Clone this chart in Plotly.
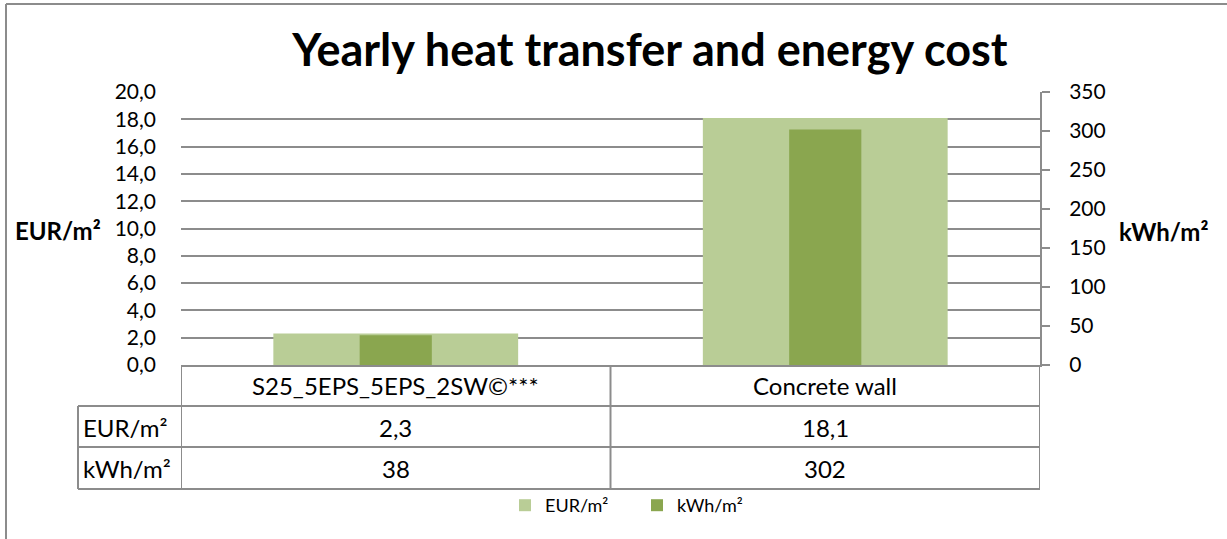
import plotly.graph_objects as go

# ---- data ----
categories = ["S25_5EPS_5EPS_2SW©***", "Concrete wall"]
eur_values = [2.3, 18.1]
kwh_values = [38, 302]
series_names = ["EUR/m²", "kWh/m²"]
title_text = "Yearly heat transfer and energy cost"
left_ticks = [0, 2, 4, 6, 8, 10, 12, 14, 16, 18, 20]
right_ticks = [0, 50, 100, 150, 200, 250, 300, 350]

# ---- layout geometry (pixels) ----
W, H = 1227, 539
L, R_EDGE = 181, 1040
TOP, BOT = 92, 365
PW, PH = R_EDGE - L, BOT - TOP

def fx(px):
    return (px - L) / PW

def fy(py):
    return (BOT - py) / PH

LIGHT = "#B9CD96"
DARK = "#8AA64F"
GRID = "#8C8C8C"
FONT = "Lato"
TFS = 24

fig = go.Figure()
fig.add_trace(go.Bar(x=list(range(len(categories))), y=eur_values, name=series_names[0],
                     marker=dict(color=LIGHT, line=dict(width=0)), width=0.57, yaxis="y"))
fig.add_trace(go.Bar(x=list(range(len(categories))), y=kwh_values, name=series_names[1],
                     marker=dict(color=DARK, line=dict(width=0)), width=0.168, yaxis="y2"))

def fmt(v, dec):
    return (f"{v:.{dec}f}").replace(".", ",")

annotations = []
row_centers = [385, 427, 468]
for i, cat in enumerate(categories):
    for r, txt in enumerate([cat, fmt(eur_values[i], 1), fmt(kwh_values[i], 0)]):
        annotations.append(dict(x=i, xref="x", y=fy(row_centers[r]), yref="paper", text=txt,
                                showarrow=False, font=dict(size=TFS, family=FONT, color="#000"),
                                xanchor="center", yanchor="middle"))
for j, name in enumerate(series_names):
    annotations.append(dict(x=fx(81), xref="paper", y=fy(row_centers[j + 1]), yref="paper", text=name,
                            showarrow=False, font=dict(size=TFS, family=FONT, color="#000"),
                            xanchor="left", yanchor="middle"))
# axis titles
annotations.append(dict(x=fx(13), xref="paper", y=fy(230), yref="paper", text="<b>EUR/m²</b>",
                        showarrow=False, font=dict(size=24, family=FONT, color="#000"),
                        xanchor="left", yanchor="middle"))
annotations.append(dict(x=fx(1117), xref="paper", y=fy(231), yref="paper", text="<b>kWh/m²</b>",
                        showarrow=False, font=dict(size=24, family=FONT, color="#000"),
                        xanchor="left", yanchor="middle"))

shapes = []
line = dict(color=GRID, width=2)
for py in [406, 447, 489]:
    shapes.append(dict(type="line", xref="paper", yref="paper", x0=fx(78), x1=1, y0=fy(py), y1=fy(py), line=line))
shapes.append(dict(type="line", xref="paper", yref="paper", x0=fx(78), x1=fx(78), y0=fy(406), y1=fy(489), line=line))
for xb in [-0.5, 0.5, 1.5]:
    shapes.append(dict(type="line", xref="x", yref="paper", x0=xb, x1=xb, y0=0, y1=fy(489), line=line))
# outer chart border (top and left)
shapes.append(dict(type="line", xref="paper", yref="paper", x0=fx(6), x1=fx(W + 5), y0=fy(4), y1=fy(4), line=line))
shapes.append(dict(type="line", xref="paper", yref="paper", x0=fx(6), x1=fx(6), y0=fy(4), y1=fy(H + 5), line=line))

fig.update_layout(
    width=W, height=H, autosize=False,
    margin=dict(l=L, r=W - R_EDGE, t=TOP, b=H - BOT, autoexpand=False),
    paper_bgcolor="white", plot_bgcolor="white",
    separators=",.",
    barmode="overlay",
    font=dict(family=FONT, color="#000"),
    title=dict(text="<b>" + title_text + "</b>", x=650 / W, y=1 - 50 / H, xref="container", yref="container",
               xanchor="center", yanchor="middle", font=dict(size=45, family=FONT, color="#000")),
    xaxis=dict(range=[-0.5, 1.5], showticklabels=False, showgrid=False, zeroline=False,
               showline=True, linecolor=GRID, linewidth=2, ticks="", fixedrange=True),
    yaxis=dict(range=[0, 20], tickvals=left_ticks, tickformat=".1f", showgrid=True, gridcolor=GRID,
               gridwidth=1.5, zeroline=False, showline=False, ticks="",
               ticklabelstandoff=24, tickfont=dict(size=21, family=FONT, color="#000")),
    yaxis2=dict(range=[0, 350], tickvals=right_ticks, overlaying="y", side="right", showgrid=False,
                zeroline=False, showline=True, linecolor=GRID, linewidth=2, ticks="outside",
                ticklen=8, tickcolor=GRID, tickwidth=2, ticklabelstandoff=15,
                tickfont=dict(size=21, family=FONT, color="#000")),
    legend=dict(orientation="h", x=fx(505), y=fy(487), xanchor="left", yanchor="top",
                font=dict(size=18, family=FONT, color="#000"), bgcolor="rgba(0,0,0,0)",
                itemclick=False, itemdoubleclick=False, entrywidth=87, entrywidthmode="pixels"),
    annotations=annotations,
    shapes=shapes,
)

fig.write_html("out.html", config={"displayModeBar": False},
               post_script="document.body.style.margin='0';document.body.style.overflow='hidden';")
